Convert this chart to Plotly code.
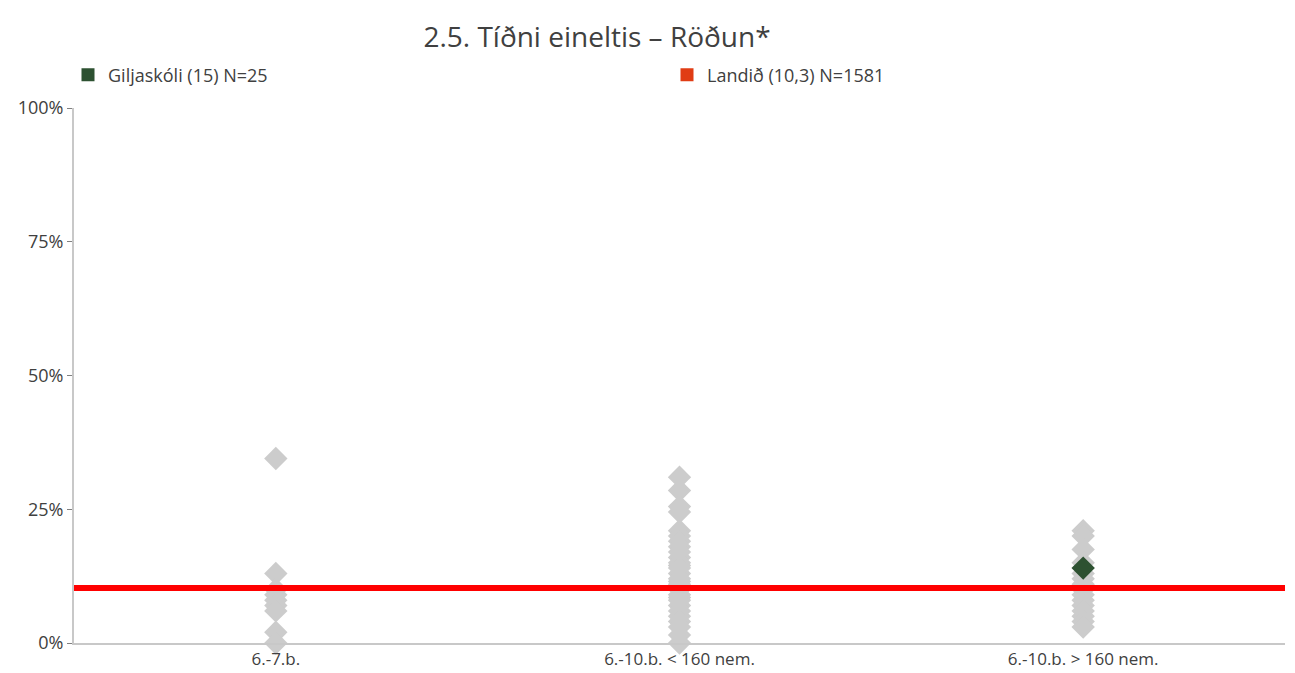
import plotly.graph_objects as go

# Categories on the x axis
categories = ["6.-7.b.", "6.-10.b. < 160 nem.", "6.-10.b. > 160 nem."]

# All schools, share (%) per category
schools_7b = [34.5, 13.0, 10.0, 9.0, 8.0, 7.0, 6.0, 2.0, 0.0]
schools_small = [31.0, 28.5, 25.5, 24.5, 21.0, 20.0, 19.0, 18.0, 17.0, 16.0, 15.0,
                 14.5, 14.0, 13.0, 12.0, 11.5, 11.0, 10.0, 9.0, 8.5, 8.0, 7.0,
                 6.0, 5.0, 4.0, 3.0, 1.5, 0.0]
schools_large = [21.0, 20.0, 17.5, 15.0, 13.0, 12.0, 11.0, 10.0, 9.0, 8.0, 7.0,
                 6.0, 5.0, 4.0, 3.0]

# Selected school
school_name = "Giljaskóli (15) N=25"
school_cat = 2
school_value = 14.0

# National average
national_name = "Landið (10,3) N=1581"
national_value = 10.3

W, H = 1287, 665  # page body has an 8px margin

fig = go.Figure()

# grey diamonds for every school
for i, vals in enumerate([schools_7b, schools_small, schools_large]):
    fig.add_trace(go.Scatter(
        x=[i] * len(vals), y=[v / 100 for v in vals],
        mode="markers",
        marker=dict(symbol="diamond", size=18, color="#CCCCCC"),
        showlegend=False, cliponaxis=False, hoverinfo="y"
    ))

# national average line
fig.add_trace(go.Scatter(
    x=[-0.5, len(categories) - 0.5], y=[national_value / 100] * 2,
    mode="lines", line=dict(color="#FF0000", width=6),
    showlegend=False, hoverinfo="y"
))

# selected school
fig.add_trace(go.Scatter(
    x=[school_cat], y=[school_value / 100],
    mode="markers",
    marker=dict(symbol="diamond", size=18, color="#2D5131"),
    showlegend=False, cliponaxis=False
))

# legend entries (squares)
fig.add_trace(go.Scatter(x=[None], y=[None], mode="markers", name=school_name,
                         marker=dict(symbol="square", size=13, color="#2D5131")))
fig.add_trace(go.Scatter(x=[None], y=[None], mode="markers", name=national_name,
                         marker=dict(symbol="square", size=13, color="#E03C14")))

fig.update_layout(
    width=W, height=H,
    margin=dict(l=66, r=10, t=100, b=30, autoexpand=False),
    paper_bgcolor="white", plot_bgcolor="white",
    font=dict(family="Open Sans", color="#404040", size=17),
    title=dict(text="2.5. Tíðni eineltis – Röðun*", x=589 / W, xanchor="center",
               y=1 - 29 / H, yanchor="middle", font=dict(size=28, color="#404040")),
    legend=dict(orientation="h", x=60 / W, xref="container", xanchor="left",
                y=1 - 67 / H, yref="container", yanchor="middle",
                entrywidth=554, font=dict(size=18, color="#404040"),
                bgcolor="rgba(0,0,0,0)"),
    xaxis=dict(range=[-0.5, len(categories) - 0.5], tickvals=list(range(len(categories))),
               ticktext=categories, showgrid=False, zeroline=False,
               showline=True, linecolor="#C8C8C8", linewidth=2, ticks="",
               tickfont=dict(size=17)),
    yaxis=dict(range=[0, 1], tickvals=[0, 0.25, 0.5, 0.75, 1],
               ticktext=["0%", "25%", "50%", "75%", "100%"],
               showgrid=False, zeroline=False, showline=True, linecolor="#C8C8C8",
               linewidth=2, ticks="outside", ticklen=5, tickcolor="#808080",
               tickfont=dict(size=18)),
    hovermode="closest"
)

fig.write_html("out.html")
